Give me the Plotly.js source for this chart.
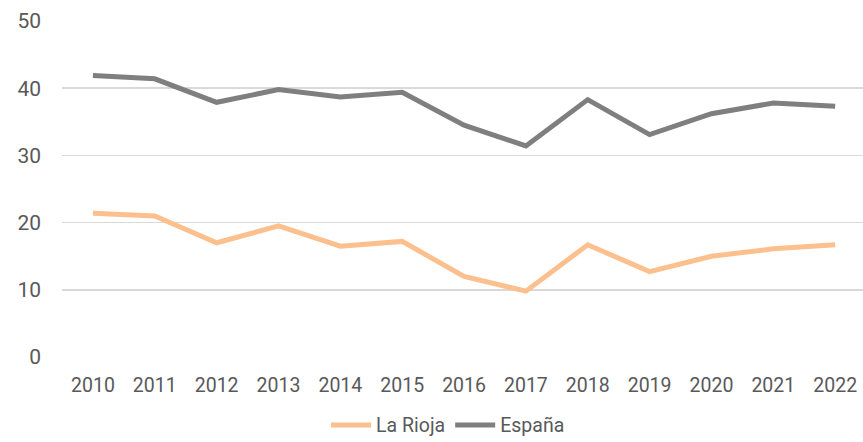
<!DOCTYPE html>
<html>
<head>
<meta charset="utf-8">
<script src="https://cdn.plot.ly/plotly-3.0.1.min.js"></script>
<style>html,body{margin:0;padding:0;background:#fff;}#chart{width:863px;height:442px;}</style>
</head>
<body>
<div id="chart"></div>
<script>
const years = ["2010","2011","2012","2013","2014","2015","2016","2017","2018","2019","2020","2021","2022"];
const laRioja = [21.4, 21.0, 17.0, 19.5, 16.5, 17.2, 12.0, 9.8, 16.7, 12.7, 15.0, 16.1, 16.7];
const espana = [41.9, 41.4, 37.9, 39.8, 38.7, 39.4, 34.5, 31.4, 38.3, 33.1, 36.2, 37.8, 37.3];
const yTicks = [0, 10, 20, 30, 40, 50];

const traces = [
  {x: years, y: laRioja, name: "La Rioja", type: "scatter", mode: "lines",
   line: {color: "#fcc08f", width: 5}},
  {x: years, y: espana, name: "España", type: "scatter", mode: "lines",
   line: {color: "#7f7f7f", width: 5}}
];

const xfont = {family: "Roboto, sans-serif", size: 19.5, color: "#595959"};
const yfont = {family: "Roboto, sans-serif", size: 21, color: "#595959"};

const layout = {
  width: 863, height: 442,
  margin: {l: 62, r: 0, t: 21, b: 85, pad: 0},
  paper_bgcolor: "#fff", plot_bgcolor: "#fff",
  font: xfont,
  showlegend: true,
  legend: {orientation: "h", x: 0.482, xanchor: "center", yref: "container", y: 0.038, yanchor: "middle",
           font: {family: "Roboto, sans-serif", size: 19.5, color: "#595959"}, itemwidth: 40, tracegroupgap: 0},
  xaxis: {type: "category", range: [-0.5, 12.45], showgrid: false, zeroline: false, showline: false,
          ticks: "", ticklabelstandoff: 14, tickfont: xfont},
  yaxis: {range: [0, 50], tickvals: yTicks, showgrid: true, gridcolor: "#d9d9d9", gridwidth: 1.5,
          zeroline: false, showline: false, ticks: "", ticklabelstandoff: 20, tickfont: yfont}
};

Plotly.newPlot("chart", traces, layout, {displayModeBar: false, staticPlot: true});
</script>
</body>
</html>
